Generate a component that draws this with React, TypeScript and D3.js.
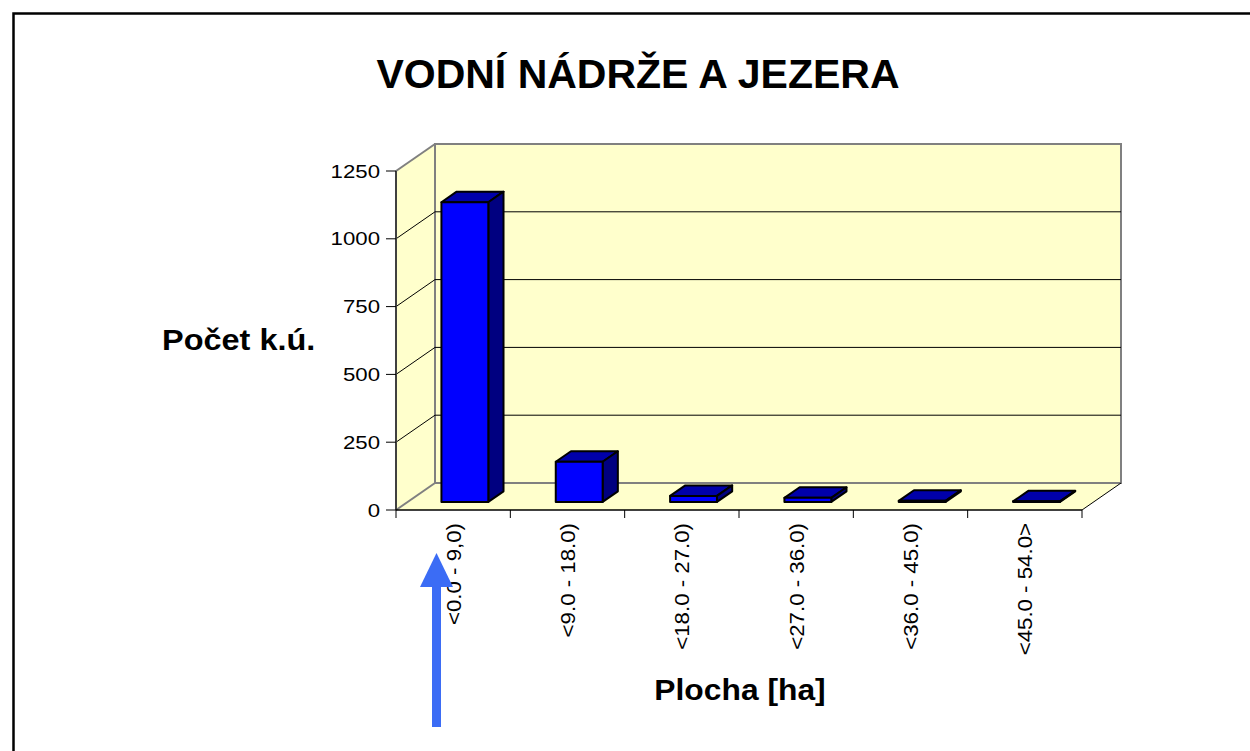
import React from 'react';
import * as d3 from 'd3';

const title = 'VODNÍ NÁDRŽE A JEZERA';
const yTitle = 'Počet k.ú.';
const xTitle = 'Plocha [ha]';
const categories = ['<0.0 - 9,0)', '<9.0 - 18.0)', '<18.0 - 27.0)', '<27.0 - 36.0)', '<36.0 - 45.0)', '<45.0 - 54.0>'];
const counts = [1105, 148, 22, 15, 4, 2];
const yTicks = [0, 250, 500, 750, 1000, 1250];

const FONT = 'Liberation Sans, Arial, sans-serif';

export default function App() {
  const width = 1250;
  const height = 751;
  const left = 396;
  const right = 1082;
  const bottom = 510;
  const top = 171;
  // depth of the 3D box
  const depth = d3.scaleLinear().domain([0, 1]).range([0, 39]);
  const depthY = d3.scaleLinear().domain([0, 1]).range([0, -27]);

  const x = d3.scaleBand().domain(categories).range([left, right]).padding(0);
  const y = d3.scaleLinear().domain([0, 1250]).range([bottom, top]);

  const dx = depth(1);
  const dy = depthY(1);
  const barFront = 0.3;
  const barBack = 0.69;
  const barW = x.bandwidth() * 0.41;

  const pt = (px: number, py: number, d: number) => `${px + depth(d)},${py + depthY(d)}`;

  return (
    <svg width={width} height={height} style={{ position: 'absolute', left: 0, top: 0 }} fontFamily={FONT}>
      <rect x={0} y={0} width={width} height={height} fill="#fff" />
      <path d={`M13.5,${height} L13.5,13.5 L${width},13.5`} fill="none" stroke="#000" strokeWidth={2.5} />

      <text x={638} y={88} textAnchor="middle" fontSize={41} fontWeight="bold">{title}</text>

      {/* walls */}
      <polygon
        points={`${left},${bottom} ${left},${top} ${left + dx},${top + dy} ${left + dx},${bottom + dy}`}
        fill="#ffffcc"
      />
      <polygon
        points={`${left},${bottom} ${right},${bottom} ${right + dx},${bottom + dy} ${left + dx},${bottom + dy}`}
        fill="#ffffcc"
      />
      <rect x={left + dx} y={top + dy} width={right - left} height={bottom - top} fill="#ffffcc" stroke="#808080" strokeWidth={2} />
      <line x1={left} y1={top} x2={left + dx} y2={top + dy} stroke="#808080" strokeWidth={2} />
      <line x1={left} y1={bottom} x2={left + dx} y2={bottom + dy} stroke="#808080" strokeWidth={2} />

      {/* gridlines */}
      {yTicks.filter((t) => t > 0 && t < 1250).map((t) => (
        <g key={t}>
          <line x1={left} y1={y(t)} x2={left + dx} y2={y(t) + dy} stroke="#000" strokeWidth={1} />
          <line x1={left + dx} y1={y(t) + dy} x2={right + dx} y2={y(t) + dy} stroke="#000" strokeWidth={1} />
        </g>
      ))}
      <line x1={right} y1={bottom} x2={right + dx} y2={bottom + dy} stroke="#000" strokeWidth={1} />

      {/* axes */}
      <line x1={left} y1={bottom} x2={left} y2={top} stroke="#404040" strokeWidth={2} />
      <line x1={left} y1={bottom} x2={right} y2={bottom} stroke="#000" strokeWidth={1.5} />
      {yTicks.map((t) => (
        <g key={t}>
          <line x1={left - 10} y1={y(t)} x2={left} y2={y(t)} stroke="#000" strokeWidth={1} />
          <text transform={`translate(380,${y(t)}) scale(1.17,1)`} dy="0.35em" textAnchor="end" fontSize={19}>{t}</text>
        </g>
      ))}
      {[...categories.map((c) => x(c) as number), right].map((tx, i) => (
        <line key={i} x1={tx} y1={bottom} x2={tx} y2={bottom + 8} stroke="#000" strokeWidth={1} />
      ))}
      {categories.map((c) => {
        const cx = (x(c) as number) + x.bandwidth() / 2;
        return (
          <text key={c} transform={`translate(${cx},523) rotate(-90) scale(1.06,1)`} dy="0.35em" textAnchor="end" fontSize={21}>{c}</text>
        );
      })}

      {/* bars */}
      {categories.map((c, i) => {
        const cx = (x(c) as number) + x.bandwidth() / 2;
        const x0 = cx - barW / 2;
        const x1 = cx + barW / 2;
        const y0 = y(0);
        const y1 = y(counts[i]);
        const fx = depth(barFront);
        const fy = depthY(barFront);
        return (
          <g key={c} stroke="#000" strokeWidth={2} strokeLinejoin="round">
            <polygon points={`${pt(x0, y1, barFront)} ${pt(x1, y1, barFront)} ${pt(x1, y1, barBack)} ${pt(x0, y1, barBack)}`} fill="#0000aa" />
            <polygon points={`${pt(x1, y0, barFront)} ${pt(x1, y1, barFront)} ${pt(x1, y1, barBack)} ${pt(x1, y0, barBack)}`} fill="#000080" />
            <rect x={x0 + fx} y={y1 + fy} width={barW} height={y0 - y1} fill="#0000ff" />
          </g>
        );
      })}

      <text transform="translate(162,350) scale(1.12,1)" fontSize={29} fontWeight="bold">{yTitle}</text>
      <text transform="translate(740,700) scale(1.06,1)" textAnchor="middle" fontSize={30} fontWeight="bold">{xTitle}</text>

      {/* arrow */}
      <rect x={432} y={585} width={9} height={142} fill="#3b6cf5" />
      <polygon points="436.5,553 420,587 453,587" fill="#3b6cf5" />
    </svg>
  );
}
